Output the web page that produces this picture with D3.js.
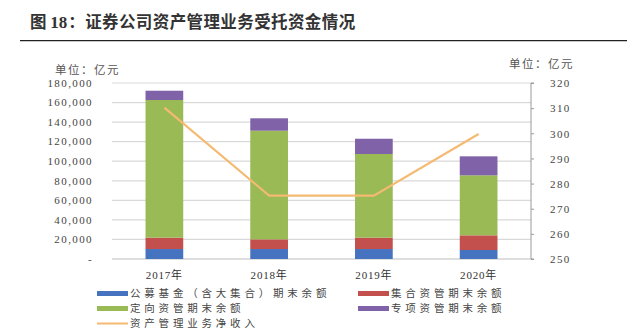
<!DOCTYPE html>
<html><head><meta charset="utf-8">
<script src="https://cdn.jsdelivr.net/npm/d3@7"></script>
<style>
body{margin:0;background:#fff;}
svg{display:block;}
</style></head>
<body><svg id="c" width="638" height="331"></svg>
<script>
const categories = ["2017年","2018年","2019年","2020年"];
const publicFund = [10200, 10200, 10200, 9200];
const collective = [11600, 9900, 11600, 15000];
const directional = [140800, 111100, 85600, 61400];
const special = [9500, 12700, 15600, 19400];
const netIncome = [310.2, 275.2, 275.2, 299.7];
const leftTicks = [0,20000,40000,60000,80000,100000,120000,140000,160000,180000];
const rightTicks = [250,260,270,280,290,300,310,320];
const seriesNames = ["公募基金（含大集合）期末余额","集合资管期末余额","定向资管期末余额","专项资管期末余额","资产管理业务净收入"];
const colors = ["#4573C0","#C3504C","#99BA55","#7F62A8","#F5BA72"];

const svg = d3.select("#c");
const cjk = "'Noto Sans CJK SC', sans-serif";
const serif = "'Liberation Serif', 'DejaVu Serif', serif";

// title
const t = svg.append("text").attr("x",30).attr("y",28).attr("fill","#333")
  .style("font-family",cjk).style("font-size","16.5px").style("font-weight","700");
t.append("tspan").text("图 ");
t.append("tspan").style("font-family",serif).style("font-size","17px").text("18");
t.append("tspan").attr("dx",1).text("：证券公司资产管理业务受托资金情况").attr("letter-spacing","0.4px");
svg.append("line").attr("x1",20).attr("x2",627).attr("y1",40.7).attr("y2",40.7).attr("stroke","#222").attr("stroke-width",1.3);

const x0=112, x1=531, yTop=83, yBot=259;
const x = d3.scaleBand().domain(categories).range([x0,x1]).paddingInner(0.64).paddingOuter(0.32);
const yL = d3.scaleLinear().domain([0,180000]).range([yBot,yTop]);
const yR = d3.scaleLinear().domain([250,320]).range([yBot,yTop]);

// gridlines
svg.append("g").selectAll("line").data(leftTicks).join("line")
  .attr("x1",x0).attr("x2",x1).attr("y1",d=>yL(d)).attr("y2",d=>yL(d))
  .attr("stroke",d=>d===0?"#bdbdbd":"#d9d9d9").attr("stroke-width",1.2);

// left labels
svg.append("g").selectAll("text").data(leftTicks).join("text")
  .attr("x",93).attr("y",d=>yL(d)+3.8).attr("text-anchor","end")
  .attr("fill","#444").style("font-family",serif).style("font-size","11px").attr("letter-spacing","1.4px")
  .text(d=>d===0?"-":d3.format(",")(d));

// right axis
const ra = svg.append("g").attr("transform",`translate(${x1},0)`)
  .call(d3.axisRight(yR).tickValues(rightTicks).tickSize(3).tickPadding(16));
ra.select(".domain").attr("stroke","#9a9a9a").attr("d",`M3,${yTop}H0V${yBot}H3`);
ra.selectAll(".tick line").attr("stroke","#9a9a9a");
ra.selectAll("text").attr("fill","#444").style("font-family",serif).style("font-size","11px").attr("letter-spacing","1.4px").attr("dy","0.34em");

// units
svg.append("text").attr("x",55).attr("y",74).attr("fill","#555").style("font-family",cjk).style("font-size","11.5px").attr("letter-spacing","1.5px").text("单位：亿元");
svg.append("text").attr("x",509).attr("y",68).attr("fill","#555").style("font-family",cjk).style("font-size","11.5px").attr("letter-spacing","1.5px").text("单位：亿元");

// stacked bars
const rows = categories.map((c,i)=>({cat:c,a:publicFund[i],b:collective[i],c2:directional[i],d:special[i]}));
const stack = d3.stack().keys(["a","b","c2","d"])(rows);
svg.append("g").selectAll("g").data(stack).join("g").attr("fill",(d,i)=>colors[i])
  .selectAll("rect").data(d=>d).join("rect")
  .attr("x",d=>x(d.data.cat)).attr("width",x.bandwidth())
  .attr("y",d=>yL(d[1])).attr("height",d=>yL(d[0])-yL(d[1]));

// line
const line = d3.line().x((d,i)=>x(categories[i])+x.bandwidth()/2).y(d=>yR(d));
svg.append("path").datum(netIncome).attr("d",line).attr("fill","none").attr("stroke",colors[4]).attr("stroke-width",2.2);

// category labels
svg.append("g").selectAll("text").data(categories).join("text")
  .attr("x",d=>x(d)+x.bandwidth()/2).attr("y",278.5).attr("text-anchor","middle")
  .attr("fill","#333").style("font-size","11px").style("font-family",serif).attr("letter-spacing","0.8px")
  .each(function(d){
    const s=d3.select(this);
    s.append("tspan").text(d.slice(0,4));
    s.append("tspan").style("font-family",cjk).text(d.slice(4));
  });

// legend
const leg = [
  {i:0,x:97,y:293.5},{i:1,x:358,y:293.5},{i:2,x:97,y:308.5},{i:3,x:358,y:308.5},{i:4,x:97,y:323.5}
];
const lg = svg.append("g").selectAll("g").data(leg).join("g");
lg.append("rect").attr("x",d=>d.x).attr("y",d=>d.i===4?d.y-1:d.y-2.5).attr("width",31).attr("height",d=>d.i===4?2:5).attr("fill",d=>colors[d.i]);
lg.append("text").attr("x",d=>d.x+33).attr("y",d=>d.y+3.8).attr("fill","#444")
  .style("font-family",cjk).style("font-size","10.5px").attr("letter-spacing","3.8px").text(d=>seriesNames[d.i]);
</script></body></html>
